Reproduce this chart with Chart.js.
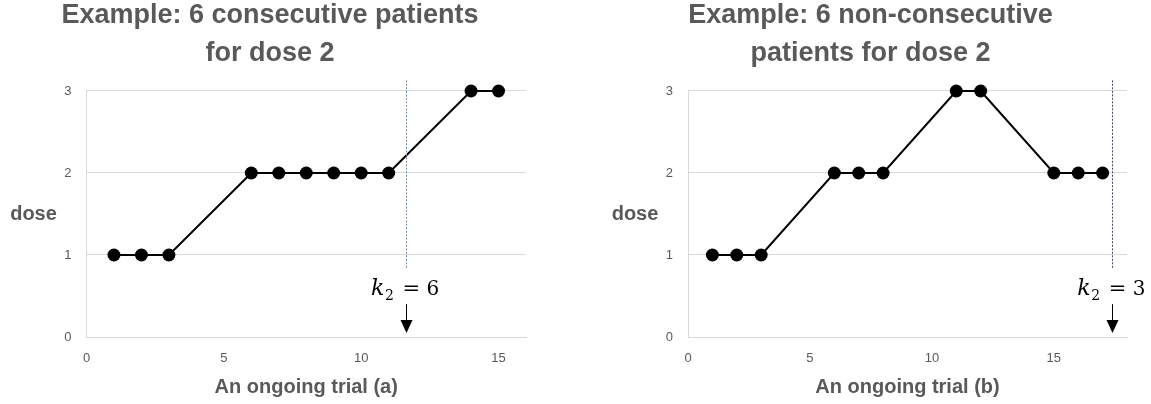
<!DOCTYPE html>
<html><head><meta charset="utf-8">
<script src="https://cdn.jsdelivr.net/npm/chart.js@4.4.1/dist/chart.umd.min.js"></script>
<style>
html,body{margin:0;padding:0;background:#fff;width:1151px;height:404px;overflow:hidden}
canvas{position:absolute;top:0}
#cA{left:0}
#cB{left:596px}
</style></head><body>
<canvas id="cA" width="540" height="404"></canvas>
<canvas id="cB" width="555" height="404"></canvas>
<script>
// ---- data ----
const patientsA = [1, 2, 3, 6, 7, 8, 9, 10, 11, 14, 15];
const doseA     = [1, 1, 1, 2, 2, 2, 2, 2, 2, 3, 3];
const patientsB = [1, 2, 3, 6, 7, 8, 11, 12, 15, 16, 17];
const doseB     = [1, 1, 1, 2, 2, 2, 3, 3, 2, 2, 2];
const titleA = ['Example: 6 consecutive patients', 'for dose 2'];
const titleB = ['Example: 6 non-consecutive', 'patients for dose 2'];
const xTitleA = 'An ongoing trial (a)';
const xTitleB = 'An ongoing trial (b)';
const yTitle = 'dose';
const xMaxA = 16, xMaxB = 18, xStep = 5;
const doseTicks = [0, 1, 2, 3];
// k annotation: x of guide line (trial units) and value
const kLineA = 11.63, kValueA = 6;
const kLineB = 17.4,  kValueB = 3;
// vertical extents of guide/arrow/label in dose units
const guideTop = 3.13, guideBottom = 0.84, arrowFrom = 0.40, arrowTo = 0.05, labelBase = 0.512;

const GREY = '#595959';
const GRID = '#d9d9d9';

const kPlugin = {
  id: 'kAnnot',
  afterDatasetsDraw(chart, args, o) {
    const {ctx} = chart;
    const xs = chart.scales.x, ys = chart.scales.y;
    const px = xs.getPixelForValue(o.at);
    const xr = Math.round(px) + 0.5;
    ctx.save();
    // dashed guide
    ctx.strokeStyle = o.guideColor; ctx.lineWidth = 1; ctx.setLineDash([2, 1.5]);
    ctx.beginPath();
    ctx.moveTo(xr, ys.getPixelForValue(guideTop));
    ctx.lineTo(xr, ys.getPixelForValue(guideBottom));
    ctx.stroke();
    ctx.setLineDash([]);
    // arrow
    const a0 = ys.getPixelForValue(arrowFrom), a1 = ys.getPixelForValue(arrowTo);
    ctx.strokeStyle = '#000';
    ctx.beginPath(); ctx.moveTo(xr, a0); ctx.lineTo(xr, a1 - 10); ctx.stroke();
    ctx.fillStyle = '#000';
    ctx.beginPath();
    ctx.moveTo(xr - 6, a1 - 13); ctx.lineTo(xr + 6, a1 - 13); ctx.lineTo(xr, a1);
    ctx.closePath(); ctx.fill();
    // label  k_2 = n
    const by = ys.getPixelForValue(labelBase);
    ctx.fillStyle = '#000';
    ctx.textBaseline = 'alphabetic'; ctx.textAlign = 'left';
    ctx.font = 'italic 22px "DejaVu Serif"'; ctx.fillText('k', px - 35, by);
    ctx.font = '14px "DejaVu Serif"'; ctx.fillText('2', px - 21, by + 5);
    ctx.font = '21px "DejaVu Serif"'; ctx.fillText('=', px - 3.5, by);
    ctx.font = '20px "DejaVu Serif"'; ctx.fillText(String(o.k), px + 20.5, by);
    ctx.restore();
  },
  afterDraw(chart) {
    const {ctx, chartArea} = chart;
    ctx.save();
    ctx.font = 'bold 20px "Liberation Sans"';
    ctx.fillStyle = GREY; ctx.textAlign = 'center'; ctx.textBaseline = 'middle';
    ctx.fillText(yTitle, chartArea.left - 53, (chartArea.top + chartArea.bottom) / 2);
    ctx.restore();
  }
};

function makeChart(id, xs, ys, title, xTitle, xMax, kAt, kVal, guideColor, yWidth, padL, padR) {
  return new Chart(document.getElementById(id), {
    type: 'scatter',
    data: {
      datasets: [{
        data: xs.map((x, i) => ({x: x, y: ys[i]})),
        showLine: true,
        borderColor: '#000',
        borderWidth: 2,
        pointRadius: 6.5,
        pointHoverRadius: 6.5,
        pointBackgroundColor: '#000',
        pointBorderWidth: 0,
        clip: false
      }]
    },
    options: {
      responsive: false,
      animation: false,
      events: [],
      layout: {padding: {left: padL, right: padR, top: 0, bottom: 0}},
      plugins: {
        legend: {display: false},
        tooltip: {enabled: false},
        title: {
          display: true, text: title, color: GREY,
          font: {family: 'Liberation Sans', size: 27, weight: 'bold', lineHeight: 1.433},
          padding: {top: -4, bottom: 17.6}
        },
        kAnnot: {at: kAt, k: kVal, guideColor: guideColor}
      },
      scales: {
        x: {
          type: 'linear', min: 0, max: xMax,
          ticks: {stepSize: xStep, includeBounds: false, color: GREY, padding: 14,
                  font: {family: 'Liberation Sans', size: 13}},
          grid: {display: false, drawTicks: false},
          border: {display: true, color: GRID, width: 1},
          title: {display: true, text: xTitle, color: GREY,
                  font: {family: 'Liberation Sans', size: 20, weight: 'bold', lineHeight: 1.2},
                  padding: {top: 0, bottom: 5}},
          afterFit(s) { s.height = 67; }
        },
        y: {
          type: 'linear', min: doseTicks[0], max: doseTicks[doseTicks.length - 1],
          ticks: {stepSize: 1, color: GREY, padding: 15,
                  font: {family: 'Liberation Sans', size: 13}},
          grid: {color: GRID, lineWidth: 1, drawTicks: false},
          border: {display: true, color: GRID, width: 1},
          afterFit(s) { s.width = yWidth; }
        }
      }
    },
    plugins: [kPlugin]
  });
}

makeChart('cA', patientsA, doseA, titleA, xTitleA, xMaxA, kLineA, kValueA, '#7a8aa6', 72.5, 14, 14);
makeChart('cB', patientsB, doseB, titleB, xTitleB, xMaxB, kLineB, kValueB, '#404a5c', 74, 18, 24);
</script>
</body></html>
